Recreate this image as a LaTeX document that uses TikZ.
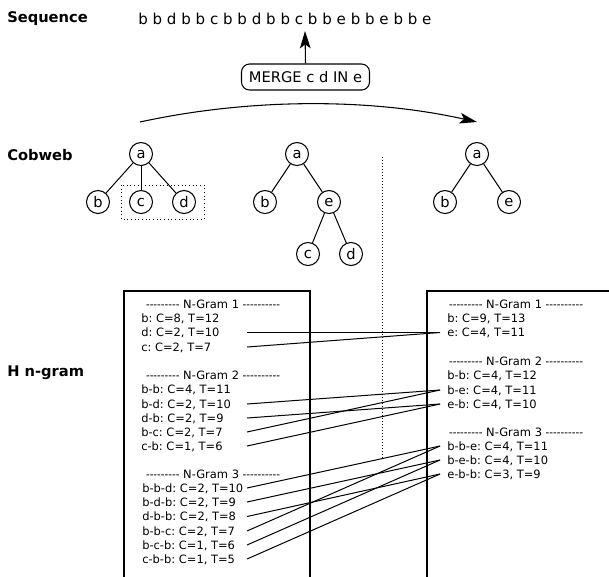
\documentclass[tikz,border=0pt]{standalone}
\usepackage{fontspec}
\setmainfont{DejaVu Sans}[Ligatures=TeXOff]
\usetikzlibrary{arrows.meta,calc}
\frenchspacing
\newcommand\dshl{\scalebox{0.9}[1]{---------}}
\newcommand\dshr{\scalebox{0.9}[1]{----------}}
\tikzset{
  lbl/.style={font=\fontsize{11}{13}\selectfont\bfseries, anchor=west, inner sep=0},
  tn/.style={circle, draw, line width=0.8pt, minimum size=17.25pt, inner sep=0, font=\fontsize{11}{13}\selectfont},
  tedge/.style={line width=0.75pt},
  ng/.style={font=\fontsize{8.6}{10}\selectfont\frenchspacing, inner sep=0, text height=6.3pt, text depth=0pt},
  ngl/.style={ng, anchor=west},
  ngr/.style={ng, anchor=west, inner xsep=5.25pt},
  conn/.style={line width=0.75pt},
  boxline/.style={line width=1.1pt},
  dotbox/.style={line width=0.75pt, dash pattern=on 0.75pt off 1.5pt},
  merger/.style={draw, line width=0.8pt, rounded corners=6pt, minimum width=96pt, minimum height=19.5pt, inner sep=0, font=\fontsize{11}{13}\selectfont},
  arrowtip/.style={-{Stealth[length=13pt,width=8pt,inset=3pt]}, line width=0.8pt}
}
\begin{document}
\begin{tikzpicture}[x=0.75pt,y=-0.75pt]
\clip (0,0) rectangle (609,576);
% labels
\node[lbl] (lseq) at (7,19) {Sequence};
\node[lbl] (lcob) at (7,155) {Cobweb};
\node[lbl] (lhng) at (7,373) {H n-gram};
% sequence and merge
\node[anchor=west, inner sep=0, font=\fontsize{11.3}{13}\selectfont] (seq) at (138,19) {b b d b b c b b d b b c b b e b b e b b e};
\node[merger] (merge) at (305.5,77) {MERGE c d IN e};
\coordinate (seqtip) at (305,31);
\draw[arrowtip] (merge.north) -- (seqtip);
% arc arrow
\coordinate (arcS) at (140,122);
\coordinate (arcE) at (477,122);
\draw[arrowtip] (arcS) .. controls (250,98) and (370,98) .. (arcE);
% tree 1
\node[tn] (a1) at (141,154) {a};
\node[tn] (b1) at (98,202) {b};
\node[tn] (c1) at (141,202) {c};
\node[tn] (d1) at (184,202) {d};
\draw[tedge] (a1) -- (b1);
\draw[tedge] (a1) -- (c1);
\draw[tedge] (a1) -- (d1);
\draw[line width=0.75pt, dotted] (121,185) rectangle (204,219);
% tree 2
\node[tn] (a2) at (297,154) {a};
\node[tn] (b2) at (265,202) {b};
\node[tn] (e2) at (329,202) {e};
\node[tn] (c2) at (308,254) {c};
\node[tn] (d2) at (351,254) {d};
\draw[tedge] (a2) -- (b2);
\draw[tedge] (a2) -- (e2);
\draw[tedge] (e2) -- (c2);
\draw[tedge] (e2) -- (d2);
% tree 3
\node[tn] (a3) at (477,154) {a};
\node[tn] (b3) at (445,202) {b};
\node[tn] (e3) at (509,202) {e};
\draw[tedge] (a3) -- (b3);
\draw[tedge] (a3) -- (e3);
% dotted separator
\draw[dotbox] (382,157) -- (382,460);
% boxes
\draw[boxline] (124,590) -- (124,291) -- (310,291) -- (310,590);
\draw[boxline] (427,590) -- (427,291) -- (620,291);
% column where left connectors start
\coordinate (lcol) at (247,0);
% left n-grams
\node[ng] (L1h) at (213,304) {\dshl{} N-Gram 1 \dshr};
\node[ngl] (Lb) at (141,318.5) {b: C=8, T=12};
\node[ngl] (Ld) at (141,332.5) {d: C=2, T=10};
\node[ngl] (Lc) at (141,347) {c: C=2, T=7};
\node[ng] (L2h) at (213,375.5) {\dshl{} N-Gram 2 \dshr};
\node[ngl] (Lbb) at (141,389.5) {b-b: C=4, T=11};
\node[ngl] (Lbd) at (141,404) {b-d: C=2, T=10};
\node[ngl] (Ldb) at (141,418) {d-b: C=2, T=9};
\node[ngl] (Lbc) at (141,432) {b-c: C=2, T=7};
\node[ngl] (Lcb) at (141,446) {c-b: C=1, T=6};
\node[ng] (L3h) at (213,474) {\dshl{} N-Gram 3 \dshr};
\node[ngl] (Lbbd) at (142,488) {b-b-d: C=2, T=10};
\node[ngl] (Lbdb) at (142,502) {b-d-b: C=2, T=9};
\node[ngl] (Ldbb) at (142,516.5) {d-b-b: C=2, T=8};
\node[ngl] (Lbbc) at (142,531) {b-b-c: C=2, T=7};
\node[ngl] (Lbcb) at (142,545) {b-c-b: C=1, T=6};
\node[ngl] (Lcbb) at (142,559) {c-b-b: C=1, T=5};
% right n-grams
\node[ng] (R1h) at (516,304) {\dshl{} N-Gram 1 \dshr};
\node[ngr] (Rb) at (440,318) {b: C=9, T=13};
\node[ngr] (Re) at (440,332.5) {e: C=4, T=11};
\node[ng] (R2h) at (516,361) {\dshl{} N-Gram 2 \dshr};
\node[ngr] (Rbb) at (440,375) {b-b: C=4, T=12};
\node[ngr] (Rbe) at (440,390) {b-e: C=4, T=11};
\node[ngr] (Reb) at (440,404) {e-b: C=4, T=10};
\node[ng] (R3h) at (516,432) {\dshl{} N-Gram 3 \dshr};
\node[ngr] (Rbbe) at (440,446) {b-b-e: C=4, T=11};
\node[ngr] (Rbeb) at (440,460) {b-e-b: C=4, T=10};
\node[ngr] (Rebb) at (440,474) {e-b-b: C=3, T=9};
% connectors
\draw[conn] (Ld -| lcol) -- (Re.west);
\draw[conn] (Lc -| lcol) -- (Re.west);
\draw[conn] (Lbd -| lcol) -- (Rbe.west);
\draw[conn] (Ldb -| lcol) -- (Reb.west);
\draw[conn] (Lbc -| lcol) -- (Rbe.west);
\draw[conn] (Lcb -| lcol) -- (Reb.west);
\draw[conn] (Lbbd -| lcol) -- (Rbbe.west);
\draw[conn] (Lbdb -| lcol) -- (Rbeb.west);
\draw[conn] (Ldbb -| lcol) -- (Rebb.west);
\draw[conn] (Lbbc -| lcol) -- (Rbbe.west);
\draw[conn] (Lbcb -| lcol) -- (Rbeb.west);
\draw[conn] (Lcbb -| lcol) -- (Rebb.west);
\end{tikzpicture}
\end{document}
